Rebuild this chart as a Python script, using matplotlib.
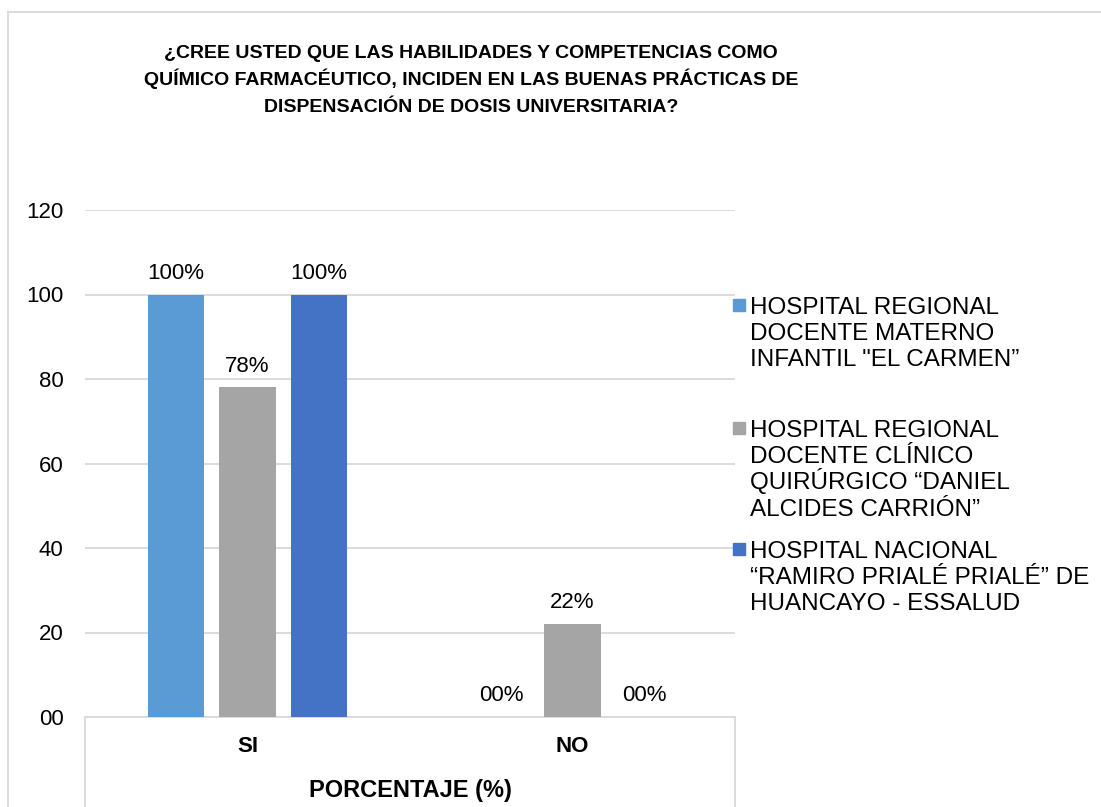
import matplotlib
matplotlib.use("Agg")
import matplotlib.pyplot as plt
import numpy as np
from matplotlib.lines import Line2D
from matplotlib.patches import Rectangle

plt.rcParams['font.family'] = ['Liberation Sans', 'DejaVu Sans']

categories = ["SI", "NO"]
series_names = [
    'HOSPITAL REGIONAL\nDOCENTE MATERNO\nINFANTIL "EL CARMEN\u201d',
    'HOSPITAL REGIONAL\nDOCENTE CL\u00cdNICO\nQUIR\u00daRGICO \u201cDANIEL\nALCIDES CARRI\u00d3N\u201d',
    'HOSPITAL NACIONAL\n\u201cRAMIRO PRIAL\u00c9 PRIAL\u00c9\u201d DE\nHUANCAYO - ESSALUD',
]
values = [
    [100, 0],
    [78, 22],
    [100, 0],
]
labels = [
    ["100%", "00%"],
    ["78%", "22%"],
    ["100%", "00%"],
]
colors = ["#5B9BD5", "#A5A5A5", "#4472C4"]
yticks = [0, 20, 40, 60, 80, 100, 120]
title = ("\u00bfCREE USTED QUE LAS HABILIDADES Y COMPETENCIAS COMO\n"
         "QU\u00cdMICO FARMAC\u00c9UTICO, INCIDEN EN LAS BUENAS PR\u00c1CTICAS DE\n"
         "DISPENSACI\u00d3N DE DOSIS UNIVERSITARIA?")
axis_title = "PORCENTAJE (%)"

W, H = 1101, 807
fig = plt.figure(figsize=(W / 100, H / 100), dpi=100)
ax = fig.add_axes([85 / W, 1 - 717 / H, 650 / W, 507 / H])

x = np.arange(len(categories))
width = 0.175
offset = 0.22
for i, (vals, labs, c) in enumerate(zip(values, labels, colors)):
    pos = x + (i - 1) * offset
    ax.bar(pos, vals, width, color=c, zorder=3)
    for p, v, l in zip(pos, vals, labs):
        ax.text(p, v + 2.5, l, ha="center", va="bottom", fontsize=16, color="#000000")

ax.set_xlim(-0.5, 1.5)
ax.set_ylim(0, 120)
ax.set_yticks(yticks)
ax.set_yticklabels([f"{t:02d}" for t in yticks], fontsize=16)
ax.tick_params(axis="y", length=0, pad=15.5)
ax.tick_params(axis="x", length=0, labelbottom=False)
ax.grid(axis="y", color="#D9D9D9", linewidth=1.3, zorder=0)
for s in ["top", "right", "left"]:
    ax.spines[s].set_visible(False)
ax.spines["bottom"].set_color("#D9D9D9")
ax.spines["bottom"].set_linewidth(1.3)

# category box lines
for xe in [0, 1]:
    ax.add_line(Line2D([xe, xe], [0, -0.2], transform=ax.transAxes,
                       color="#D9D9D9", linewidth=1.3, clip_on=False))
trans = ax.get_xaxis_transform()
for xi, c in zip(x, categories):
    ax.text(xi, -(746 - 717) / 507, c, transform=trans, ha="center", va="center",
            fontsize=16, fontweight="bold")
fig.text(410 / W, 1 - 790 / H, axis_title, ha="center", va="center",
         fontsize=17, fontweight="bold")

# title, one line at a time so the accents don't shift the spacing
for k, line in enumerate(title.split("\n")):
    fig.text(471 / W, 1 - (51 + 6.8 + k * 27) / H, line, ha="center", va="baseline",
             fontsize=14, fontweight="bold")

# legend, square aligned with the first line of each entry
legend_y = [305, 428, 549]
line_step = 26.3
for name, c, yc in zip(series_names, colors, legend_y):
    fig.add_artist(Rectangle((733 / W, 1 - (yc + 6) / H), 12 / W, 12 / H,
                             transform=fig.transFigure, color=c))
    for k, line in enumerate(name.split("\n")):
        fig.text(750 / W, 1 - (yc + 8.7 + k * line_step) / H, line,
                 ha="left", va="baseline", fontsize=17.5)

# outer chart border
fig.add_artist(Line2D([8 / W, 1], [1 - 12 / H, 1 - 12 / H], color="#D9D9D9", linewidth=1.3))
fig.add_artist(Line2D([8 / W, 8 / W], [0, 1 - 12 / H], color="#D9D9D9", linewidth=1.3))

fig.savefig("out.png", dpi=100)
